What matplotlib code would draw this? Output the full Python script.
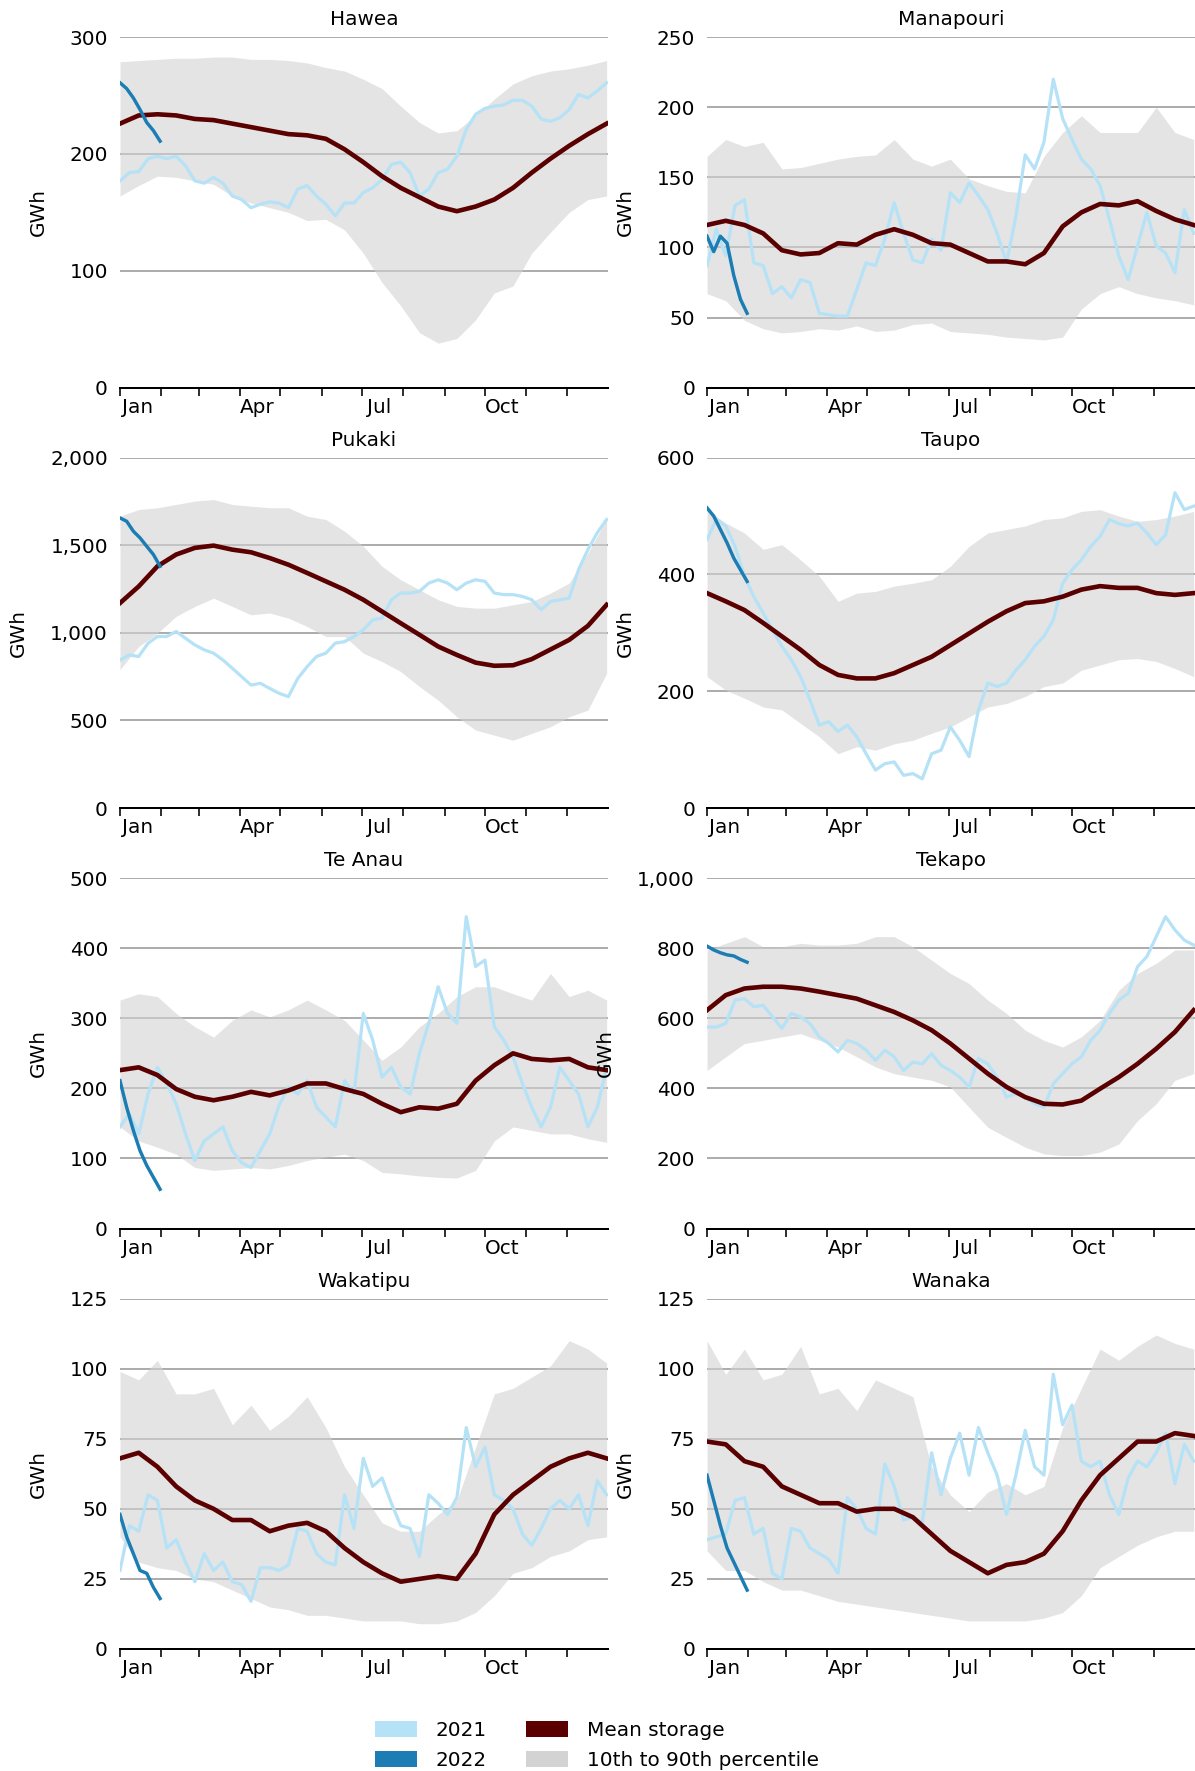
import numpy as np
import matplotlib
matplotlib.use("Agg")
import matplotlib.pyplot as plt
from matplotlib.patches import Patch
from matplotlib.ticker import FixedLocator, StrMethodFormatter

# sample grids (day of year)
days_fn = np.arange(0, 365, 14)     # fortnightly: percentile band and mean
days_wk = np.arange(0, 365, 7)      # weekly: 2021 storage
days_jan = np.arange(0, 31, 5)      # January 2022

month_starts = [0, 31, 59, 90, 120, 151, 181, 212, 243, 273, 304, 334]
quarter_days = [13, 103, 194, 286]
quarter_labels = ["Jan", "Apr", "Jul", "Oct"]

lakes = ["Hawea", "Manapouri", "Pukaki", "Taupo", "Te Anau", "Tekapo", "Wakatipu", "Wanaka"]
y_max = [300, 250, 2000, 600, 500, 1000, 125, 125]
y_step = [100, 50, 500, 200, 100, 200, 25, 25]

# ---- Hawea ----
hawea_p90 = [279, 280, 281, 282, 282, 283, 283, 281, 281, 280, 278, 274, 271, 264,
             256, 241, 227, 218, 220, 233, 247, 260, 267, 271, 273, 276, 280]
hawea_p10 = [164, 173, 181, 180, 177, 174, 164, 158, 154, 150, 143, 144, 135, 115,
             90, 70, 47, 38, 42, 58, 81, 87, 115, 133, 150, 161, 164]
hawea_mean = [226, 233, 234, 233, 230, 229, 226, 223, 220, 217, 216, 213, 204, 193,
              181, 171, 163, 155, 151, 155, 161, 171, 184, 196, 207, 217, 226]
hawea_2021 = [177, 184, 185, 196, 198, 196, 198, 190, 177, 175, 180, 175, 164, 161,
              154, 157, 159, 158, 154, 170, 173, 164, 157, 147, 158, 158, 167, 171,
              178, 191, 193, 184, 164, 170, 184, 187, 198, 221, 234, 239, 241, 242,
              246, 246, 241, 230, 228, 231, 238, 251, 248, 254, 261]
hawea_2022 = [261, 256, 248, 238, 227, 220, 211]

# ---- Manapouri ----
manapouri_p90 = [165, 177, 172, 175, 156, 157, 160, 163, 165, 166, 177, 163, 158, 163,
                 149, 144, 140, 139, 165, 182, 194, 182, 182, 182, 200, 182, 177]
manapouri_p10 = [67, 62, 48, 42, 39, 40, 42, 41, 44, 40, 41, 45, 46, 40,
                 39, 38, 36, 35, 34, 36, 56, 67, 72, 67, 64, 62, 59]
manapouri_mean = [116, 119, 116, 110, 98, 95, 96, 103, 102, 109, 113, 109, 103, 102,
                  96, 90, 90, 88, 96, 115, 125, 131, 130, 133, 126, 120, 116]
manapouri_2021 = [87, 113, 94, 130, 134, 89, 87, 67, 72, 64, 77, 75, 53, 52,
                  51, 51, 70, 89, 87, 106, 132, 110, 91, 89, 106, 98, 139, 132,
                  146, 137, 127, 110, 89, 122, 166, 156, 175, 220, 192, 177, 163, 156,
                  144, 120, 94, 77, 101, 125, 101, 96, 82, 127, 110]
manapouri_2022 = [108, 97, 108, 103, 80, 63, 53]

# ---- Pukaki ----
pukaki_p90 = [1666, 1704, 1714, 1733, 1752, 1761, 1733, 1723, 1714, 1714, 1666, 1647, 1580, 1494,
              1380, 1303, 1246, 1189, 1151, 1141, 1141, 1160, 1179, 1227, 1284, 1456, 1647]
pukaki_p10 = [790, 922, 998, 1094, 1151, 1198, 1151, 1103, 1113, 1084, 1036, 979, 979, 884,
              836, 779, 693, 616, 521, 445, 416, 387, 426, 464, 521, 559, 769]
pukaki_mean = [1170, 1265, 1380, 1447, 1485, 1498, 1475, 1460, 1427, 1389, 1342, 1294, 1246, 1189,
               1122, 1055, 989, 922, 874, 830, 812, 815, 850, 905, 960, 1040, 1160]
pukaki_2021 = [845, 874, 865, 941, 979, 979, 1008, 969, 931, 903, 884, 845, 798, 750,
               702, 712, 683, 655, 636, 740, 807, 865, 884, 941, 950, 979, 1017, 1074,
               1084, 1189, 1227, 1227, 1237, 1284, 1303, 1284, 1246, 1284, 1303, 1294, 1227, 1218,
               1218, 1208, 1189, 1132, 1179, 1189, 1198, 1361, 1475, 1571, 1647]
pukaki_2022 = [1656, 1637, 1580, 1542, 1494, 1447, 1380]

# ---- Taupo ----
taupo_p90 = [511, 488, 471, 443, 451, 425, 397, 354, 368, 371, 380, 385, 391, 414,
             448, 471, 477, 483, 494, 497, 508, 511, 500, 491, 494, 500, 508]
taupo_p10 = [225, 202, 188, 173, 168, 145, 122, 93, 105, 99, 110, 116, 128, 139,
             156, 173, 179, 191, 208, 214, 236, 245, 254, 256, 251, 239, 225]
taupo_mean = [368, 354, 339, 317, 294, 271, 245, 228, 222, 222, 231, 245, 259, 279,
              299, 319, 337, 351, 354, 362, 374, 380, 377, 377, 368, 365, 368]
taupo_2021 = [460, 494, 483, 448, 397, 362, 334, 305, 277, 254, 225, 185, 142, 148,
              131, 142, 122, 93, 65, 76, 79, 56, 59, 50, 93, 99, 139, 116,
              88, 168, 214, 208, 214, 236, 254, 277, 294, 322, 385, 408, 425, 448,
              465, 494, 487, 483, 488, 471, 451, 468, 540, 511, 517]
taupo_2022 = [514, 500, 477, 454, 428, 408, 388]

# ---- Te Anau ----
teanau_p90 = [326, 335, 331, 307, 288, 273, 297, 312, 302, 312, 326, 312, 297, 269,
              240, 259, 288, 307, 331, 345, 345, 335, 326, 364, 331, 340, 326]
teanau_p10 = [145, 125, 116, 106, 87, 83, 85, 87, 85, 90, 97, 102, 106, 97,
              80, 78, 75, 73, 72, 83, 125, 145, 140, 135, 135, 128, 123]
teanau_mean = [226, 230, 219, 199, 188, 183, 188, 195, 190, 197, 207, 207, 199, 192,
               178, 166, 173, 171, 178, 211, 233, 250, 242, 240, 242, 230, 226]
teanau_2021 = [145, 164, 135, 192, 230, 207, 178, 135, 97, 125, 135, 145, 111, 94,
               87, 111, 135, 176, 202, 192, 211, 173, 159, 145, 211, 192, 307, 269,
               216, 230, 202, 192, 250, 293, 345, 307, 293, 445, 374, 383, 288, 269,
               245, 207, 173, 145, 173, 230, 211, 192, 145, 173, 230]
teanau_2022 = [211, 173, 140, 111, 90, 73, 56]

# ---- Tekapo ----
tekapo_p90 = [795, 814, 833, 804, 804, 814, 809, 809, 814, 833, 833, 804, 766, 728,
              699, 652, 614, 566, 537, 518, 547, 594, 680, 728, 757, 795, 795]
tekapo_p10 = [451, 490, 528, 537, 547, 556, 537, 518, 490, 461, 442, 432, 423, 404,
              346, 289, 260, 232, 213, 208, 208, 218, 241, 308, 356, 423, 442]
tekapo_mean = [623, 666, 685, 690, 690, 685, 676, 666, 656, 637, 618, 594, 566, 528,
               485, 442, 404, 375, 356, 354, 365, 399, 432, 470, 513, 561, 623]
tekapo_2021 = [575, 575, 585, 652, 656, 633, 637, 604, 571, 614, 604, 585, 547, 528,
               504, 537, 528, 509, 480, 509, 490, 451, 475, 470, 499, 466, 451, 432,
               404, 485, 470, 432, 375, 385, 375, 356, 346, 413, 442, 470, 490, 537,
               566, 614, 652, 671, 747, 776, 833, 890, 852, 823, 809]
tekapo_2022 = [806, 795, 787, 781, 778, 768, 760]

# ---- Wakatipu ----
wakatipu_p90 = [99, 96, 103, 91, 91, 93, 80, 87, 78, 83, 90, 79, 65, 55,
                45, 42, 42, 48, 53, 72, 91, 93, 97, 101, 110, 107, 102]
wakatipu_p10 = [40, 31, 29, 28, 25, 24, 21, 18, 15, 14, 12, 12, 11, 10,
                10, 10, 9, 9, 10, 13, 19, 27, 29, 33, 35, 39, 40]
wakatipu_mean = [68, 70, 65, 58, 53, 50, 46, 46, 42, 44, 45, 42, 36, 31,
                 27, 24, 25, 26, 25, 34, 48, 55, 60, 65, 68, 70, 68]
wakatipu_2021 = [28, 44, 42, 55, 53, 36, 39, 31, 24, 34, 28, 31, 24, 23,
                 17, 29, 29, 28, 30, 43, 42, 34, 31, 30, 55, 43, 68, 58,
                 61, 52, 44, 43, 33, 55, 52, 48, 54, 79, 65, 72, 55, 53,
                 50, 41, 37, 43, 50, 53, 50, 55, 44, 60, 55]
wakatipu_2022 = [48, 40, 34, 28, 27, 22, 18]

# ---- Wanaka ----
wanaka_p90 = [110, 98, 107, 96, 98, 108, 91, 93, 85, 96, 93, 90, 65, 55,
              49, 56, 59, 55, 58, 79, 93, 107, 103, 108, 112, 109, 107]
wanaka_p10 = [35, 28, 28, 24, 21, 21, 19, 17, 16, 15, 14, 13, 12, 11,
              10, 10, 10, 10, 11, 13, 19, 29, 33, 37, 40, 42, 42]
wanaka_mean = [74, 73, 67, 65, 58, 55, 52, 52, 49, 50, 50, 47, 41, 35,
               31, 27, 30, 31, 34, 42, 53, 62, 68, 74, 74, 77, 76]
wanaka_2021 = [39, 40, 41, 53, 54, 41, 43, 27, 25, 43, 42, 36, 34, 32,
               27, 54, 50, 43, 41, 66, 58, 46, 47, 45, 70, 55, 68, 77,
               62, 79, 70, 62, 48, 62, 78, 65, 62, 98, 80, 87, 67, 65,
               67, 55, 48, 61, 67, 65, 70, 77, 59, 73, 67]
wanaka_2022 = [62, 53, 44, 36, 31, 26, 21]

p90 = [hawea_p90, manapouri_p90, pukaki_p90, taupo_p90, teanau_p90, tekapo_p90, wakatipu_p90, wanaka_p90]
p10 = [hawea_p10, manapouri_p10, pukaki_p10, taupo_p10, teanau_p10, tekapo_p10, wakatipu_p10, wanaka_p10]
means = [hawea_mean, manapouri_mean, pukaki_mean, taupo_mean, teanau_mean, tekapo_mean, wakatipu_mean, wanaka_mean]
s2021 = [hawea_2021, manapouri_2021, pukaki_2021, taupo_2021, teanau_2021, tekapo_2021, wakatipu_2021, wanaka_2021]
s2022 = [hawea_2022, manapouri_2022, pukaki_2022, taupo_2022, teanau_2022, tekapo_2022, wakatipu_2022, wanaka_2022]

c2021 = "#b5e2f6"
c2022 = "#1b7db4"
cmean = "#5a0000"
cband = "lightgray"

plt.rcParams["font.size"] = 10
fig, axes = plt.subplots(4, 2, figsize=(1195 / 144, 1771 / 144), dpi=144)
fig.subplots_adjust(left=0.1004, right=1.0, top=0.979, bottom=0.0689, wspace=0.203, hspace=0.2)

for i, ax in enumerate(axes.flat):
    ax.fill_between(days_fn, p10[i], p90[i], color=cband, alpha=0.6, lw=0, zorder=1)
    ax.plot(days_wk, s2021[i], color=c2021, lw=1.6, zorder=2)
    ax.plot(days_fn, means[i], color=cmean, lw=2.3, zorder=3)
    ax.plot(days_jan, s2022[i], color=c2022, lw=1.7, zorder=4)

    ax.set_title(lakes[i], fontsize=10)
    ax.set_xlim(0, 365)
    ax.set_ylim(0, y_max[i])
    ax.set_yticks(np.arange(0, y_max[i] + 1, y_step[i]))
    ax.yaxis.set_major_formatter(StrMethodFormatter("{x:,.0f}"))
    ax.set_ylabel("GWh", labelpad=11)

    ax.set_xticks(quarter_days)
    ax.set_xticklabels(quarter_labels)
    ax.xaxis.set_minor_locator(FixedLocator(month_starts))
    ax.tick_params(axis="x", which="major", length=0, pad=5)
    ax.tick_params(axis="x", which="minor", length=4, width=0.8, color="black")
    ax.tick_params(axis="y", length=0, pad=6)

    ax.set_axisbelow(True)
    ax.grid(axis="y", color="#999999", lw=0.8)
    for side in ["left", "right", "top"]:
        ax.spines[side].set_visible(False)
    ax.spines["bottom"].set_color("black")
    ax.spines["bottom"].set_linewidth(1.0)

handles = [Patch(color=c2021, label="2021"), Patch(color=c2022, label="2022"),
           Patch(color=cmean, label="Mean storage"),
           Patch(color=cband, label="10th to 90th percentile")]
fig.legend(handles=handles, loc="upper center", bbox_to_anchor=(0.5, 1 - 1709 / 1771),
           ncol=2, frameon=False, handletextpad=1.0, columnspacing=2.0,
           labelspacing=0.55, borderaxespad=0.2)

fig.savefig("out.png", dpi=144)
